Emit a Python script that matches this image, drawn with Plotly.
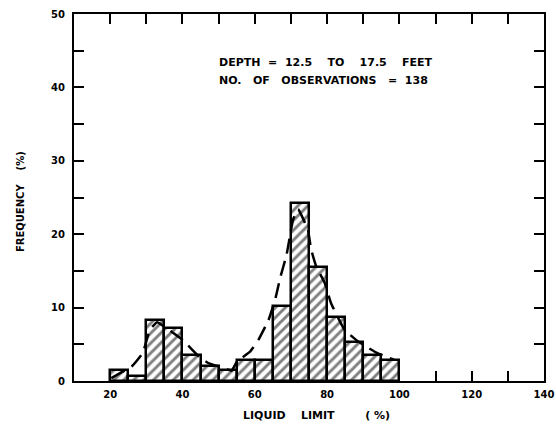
import plotly.graph_objects as go

# Histogram bins (liquid limit %, 5-unit bins) and frequencies (%)
bin_left = [20, 25, 30, 35, 40, 45, 50, 55, 60, 65, 70, 75, 80, 85, 90, 95]
frequency = [1.45, 0.72, 8.3, 7.25, 3.6, 2.0, 1.45, 2.9, 2.9, 10.2, 24.2, 15.6, 8.7, 5.3, 3.6, 2.9]

# Dashed smoothed frequency curve
curve_x = [20.3, 26, 29, 31, 33, 35, 40, 44.6, 47.3, 51.4, 53.6, 55, 58.7, 61, 63.8,
           65.6, 67, 68.8, 70.6, 72, 74.7, 75.6, 77, 79.3, 81.1, 84.8, 88.5, 93.9, 98.5]
curve_y = [0.4, 2.0, 3.8, 7.0, 8.0, 7.4, 5.6, 3.3, 2.4, 1.8, 1.4, 2.6, 4.0, 5.6, 8.3,
           11, 14, 17.2, 22, 23.4, 20.6, 17.9, 15.6, 13.4, 10.6, 7.0, 5.4, 3.8, 2.9]

# Axis ticks (every tick position, with labels only on some)
x_tick_vals = [10, 20, 30, 40, 50, 60, 70, 80, 90, 100, 110, 120, 130, 140]
x_tick_text = ["", "20", "", "40", "", "60", "", "80", "", "100", "", "120", "", "140"]
y_tick_vals = [0, 5, 10, 15, 20, 25, 30, 35, 40, 45, 50]
y_tick_text = ["0", "", "10", "", "20", "", "30", "", "40", "", "50"]

bin_width = 5
bin_center = [b + bin_width / 2 for b in bin_left]

FONT = "DejaVu Sans"
NB = "\u00a0"

fig = go.Figure()
fig.add_trace(go.Bar(
    x=bin_center, y=frequency, width=[bin_width] * len(bin_left),
    marker=dict(
        color="white",
        line=dict(color="black", width=2.5),
        pattern=dict(shape="/", fgcolor="black", bgcolor="white", size=7, solidity=0.42),
    ),
    showlegend=False,
))
fig.add_trace(go.Scatter(
    x=curve_x, y=curve_y, mode="lines",
    line=dict(color="black", width=2.5, dash="15px,8px", shape="spline", smoothing=0.3),
    showlegend=False,
))

tickfont = dict(family=FONT, size=10, color="black", weight="bold")
axis_common = dict(
    showline=True, linecolor="black", linewidth=2, mirror="ticks",
    ticks="inside", ticklen=10, tickwidth=2, tickcolor="black",
    showgrid=False, zeroline=False, tickmode="array", tickfont=tickfont,
    ticklabeloverflow="allow", automargin=False,
)

fig.update_xaxes(
    range=[10, 140], tickvals=x_tick_vals, ticktext=x_tick_text,
    ticklabelstandoff=3, **axis_common,
)
fig.update_yaxes(
    range=[0, 50], tickvals=y_tick_vals, ticktext=y_tick_text,
    ticklabelstandoff=5, **axis_common,
)

label_font = dict(family=FONT, size=11, color="black", weight="bold")
fig.add_annotation(
    xref="paper", yref="paper", x=0.304, y=0.868, xanchor="left", yanchor="middle",
    text=f"DEPTH{NB*2}={NB*2}12.5{NB*4}TO{NB*4}17.5{NB*4}FEET",
    showarrow=False, font=label_font,
)
fig.add_annotation(
    xref="paper", yref="paper", x=0.304, y=0.818, xanchor="left", yanchor="middle",
    text=f"NO.{NB*3}OF{NB*3}OBSERVATIONS{NB*3}={NB*2}138",
    showarrow=False, font=label_font,
)
fig.add_annotation(
    xref="paper", yref="paper", x=0.515, y=-0.093, xanchor="center", yanchor="middle",
    text=f"LIQUID{NB*4}LIMIT{NB*8}({NB}%)",
    showarrow=False, font=label_font,
)
fig.add_annotation(
    xref="paper", yref="paper", x=-0.115, y=0.49, xanchor="center", yanchor="middle",
    text=f"FREQUENCY{NB*4}(%)", textangle=-90,
    showarrow=False, font=dict(family=FONT, size=10, color="black", weight="bold"),
)

fig.update_layout(
    width=556, height=426,
    margin=dict(l=74, r=12, t=14, b=45, autoexpand=False),
    plot_bgcolor="white", paper_bgcolor="white",
    bargap=0,
)

fig.write_html("out.html")
